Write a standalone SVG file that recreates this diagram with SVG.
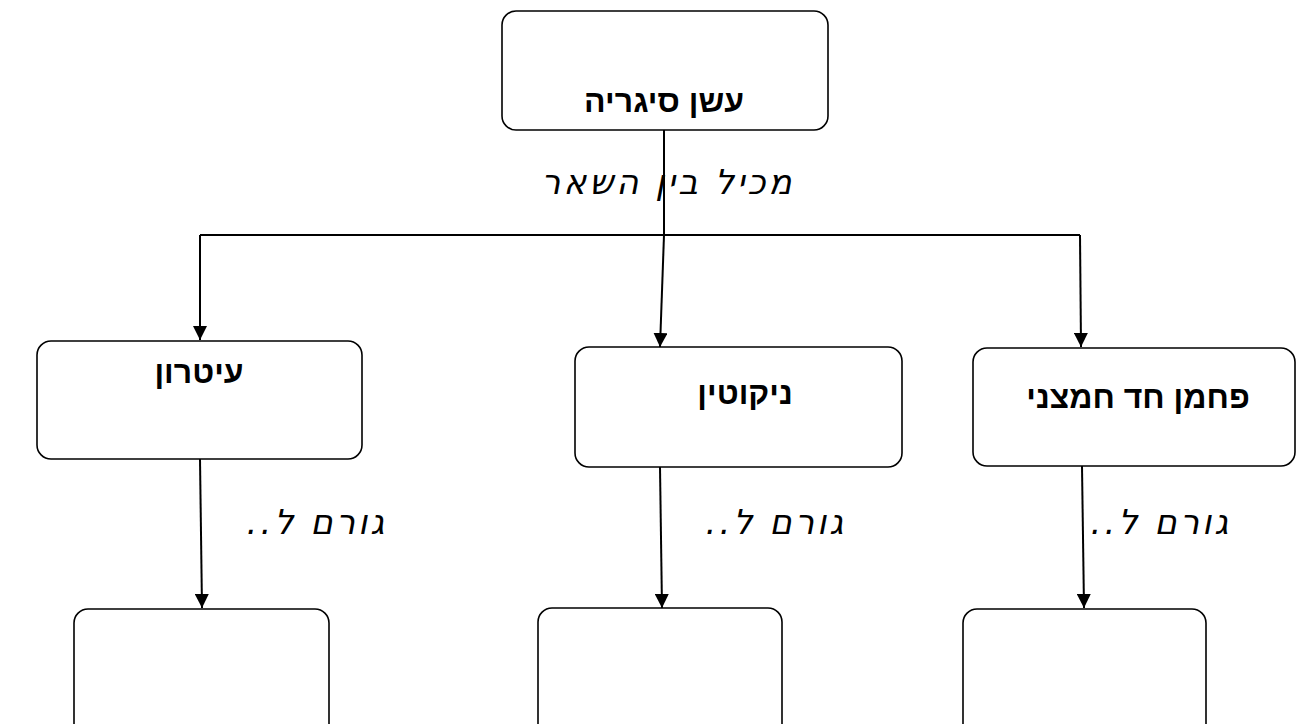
<svg xmlns="http://www.w3.org/2000/svg" width="1296" height="724" viewBox="0 0 1296 724">
<style>
.box{fill:#fff;stroke:#000;stroke-width:1.6}
.ln{fill:none;stroke:#000;stroke-width:2}
.nt{font-family:"Liberation Sans","DejaVu Sans",sans-serif;font-weight:bold;font-size:32px;fill:#000;text-anchor:middle;direction:rtl;unicode-bidi:embed}
.lb{font-family:"DejaVu Sans","Noto Sans",sans-serif;font-style:italic;font-size:34px;letter-spacing:3px;fill:#000;text-anchor:middle;direction:rtl;unicode-bidi:embed}
</style>
<defs>
<marker id="ah" viewBox="0 0 14 14" refX="14" refY="7" markerWidth="14" markerHeight="14" markerUnits="userSpaceOnUse" orient="auto">
<path d="M0,0 L14,7 L0,14 z" fill="#000"/>
</marker>
</defs>
<rect width="1296" height="724" fill="#fff"/>
<g id="connectors">
<path class="ln" d="M664,130 L664,235"/>
<path class="ln" d="M200,235 L1080,235"/>
<path class="ln" d="M200,235 L200,340" marker-end="url(#ah)"/>
<path class="ln" d="M1080,235 L1081,347" marker-end="url(#ah)"/>
<path class="ln" d="M664,235 L660,347" marker-end="url(#ah)"/>
<path class="ln" d="M200,459 L202,608" marker-end="url(#ah)"/>
<path class="ln" d="M660,467 L662,608" marker-end="url(#ah)"/>
<path class="ln" d="M1082,466 L1084,608" marker-end="url(#ah)"/>
<text class="lb" x="668" y="194">מכיל בין השאר</text>
<text class="lb" x="317" y="534">גורם ל..</text>
<text class="lb" x="776" y="534">גורם ל..</text>
<text class="lb" x="1161" y="534">גורם ל..</text>
</g>
<g id="n-smoke">
<rect class="box" x="502" y="11" width="326" height="119" rx="14"/>
<text class="nt" x="664" y="112">עשן סיגריה</text>
</g>
<g id="n-tar">
<rect class="box" x="37" y="341" width="325" height="118" rx="14"/>
<text class="nt" x="199" y="383">עיטרון</text>
</g>
<g id="n-nicotine">
<rect class="box" x="575" y="347" width="327" height="120" rx="14"/>
<text class="nt" x="745" y="404">ניקוטין</text>
</g>
<g id="n-co">
<rect class="box" x="973" y="348" width="322" height="118" rx="14"/>
<text class="nt" x="1138" y="408">פחמן חד חמצני</text>
</g>
<g id="n-r1">
<rect class="box" x="74" y="609" width="255" height="130" rx="14"/>
</g>
<g id="n-r2">
<rect class="box" x="538" y="608" width="244" height="130" rx="14"/>
</g>
<g id="n-r3">
<rect class="box" x="963" y="609" width="243" height="130" rx="14"/>
</g>
</svg>
